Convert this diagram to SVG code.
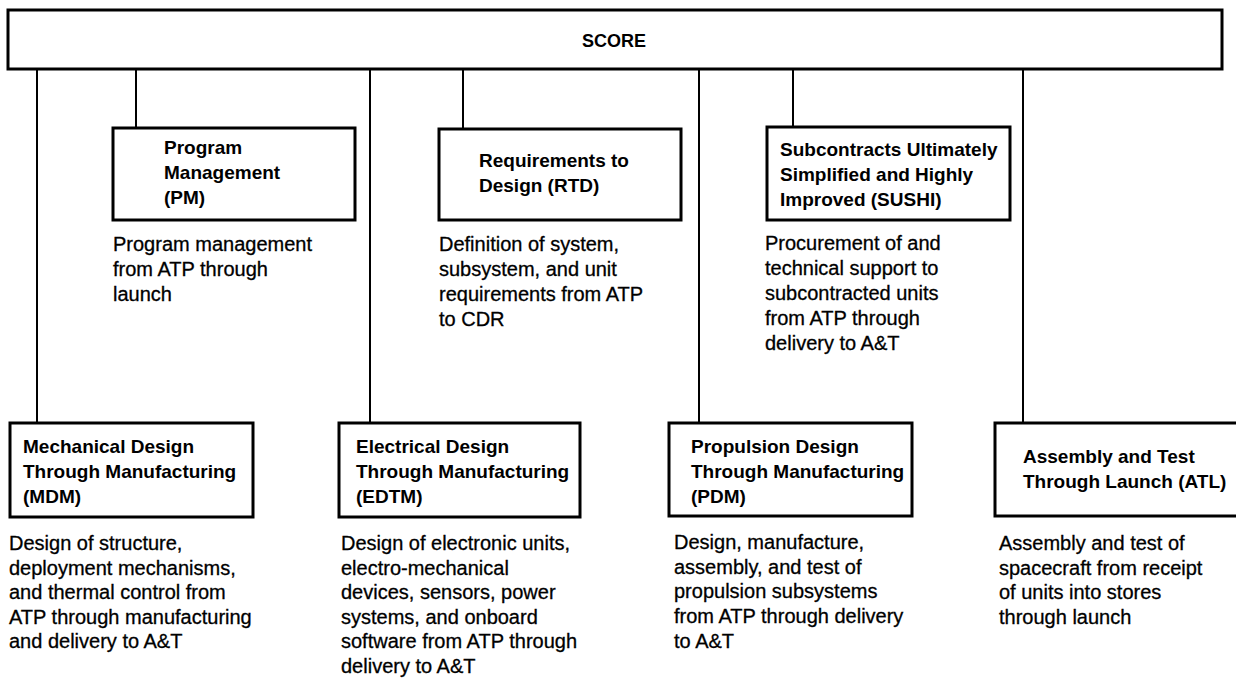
<svg xmlns="http://www.w3.org/2000/svg" width="1236" height="679" viewBox="0 0 1236 679">
<style>
.box{fill:#fff;stroke:#000;stroke-width:3}
.ln{stroke:#000;stroke-width:2;fill:none}
.t{font-family:"Liberation Sans",Arial,sans-serif;font-weight:bold;font-size:19px;fill:#000}
.d{font-family:"Liberation Sans",Arial,sans-serif;font-size:20px;fill:#000;stroke:#000;stroke-width:0.3}
.s{font-family:"Liberation Sans",Arial,sans-serif;font-weight:bold;font-size:18px;fill:#000}
</style>
<rect width="1236" height="679" fill="#fff"/>
<g id="connectors">
<line class="ln" x1="37" y1="69" x2="37" y2="423"/>
<line class="ln" x1="136" y1="69" x2="136" y2="128"/>
<line class="ln" x1="370" y1="69" x2="370" y2="423"/>
<line class="ln" x1="463" y1="69" x2="463" y2="129"/>
<line class="ln" x1="699" y1="69" x2="699" y2="423"/>
<line class="ln" x1="793" y1="69" x2="793" y2="127"/>
<line class="ln" x1="1023" y1="69" x2="1023" y2="423"/>
</g>
<g id="score">
<rect class="box" x="8" y="10" width="1214" height="59"/>
<text class="s" x="614" y="47" text-anchor="middle">SCORE</text>
</g>
<g id="pm">
<rect class="box" x="113" y="128" width="242" height="92"/>
<text class="t" x="164" y="154">Program<tspan x="164" dy="25">Management</tspan><tspan x="164" dy="25">(PM)</tspan></text>
<text class="d" x="113" y="251">Program management<tspan x="113" dy="25">from ATP through</tspan><tspan x="113" dy="25">launch</tspan></text>
</g>
<g id="rtd">
<rect class="box" x="439" y="129" width="242" height="91"/>
<text class="t" x="479" y="167">Requirements to<tspan x="479" dy="25">Design (RTD)</tspan></text>
<text class="d" x="439" y="251">Definition of system,<tspan x="439" dy="25">subsystem, and unit</tspan><tspan x="439" dy="25">requirements from ATP</tspan><tspan x="439" dy="25">to CDR</tspan></text>
</g>
<g id="sushi">
<rect class="box" x="767" y="127" width="243" height="93"/>
<text class="t" x="780" y="156">Subcontracts Ultimately<tspan x="780" dy="25">Simplified and Highly</tspan><tspan x="780" dy="25">Improved (SUSHI)</tspan></text>
<text class="d" x="765" y="250">Procurement of and<tspan x="765" dy="25">technical support to</tspan><tspan x="765" dy="25">subcontracted units</tspan><tspan x="765" dy="25">from ATP through</tspan><tspan x="765" dy="25">delivery to A&amp;T</tspan></text>
</g>
<g id="mdm">
<rect class="box" x="10" y="423" width="243" height="94"/>
<text class="t" x="23" y="453">Mechanical Design<tspan x="23" dy="25">Through Manufacturing</tspan><tspan x="23" dy="25">(MDM)</tspan></text>
<text class="d" x="9" y="550">Design of structure,<tspan x="9" dy="24.6">deployment mechanisms,</tspan><tspan x="9" dy="24.6">and thermal control from</tspan><tspan x="9" dy="24.6">ATP through manufacturing</tspan><tspan x="9" dy="24.6">and delivery to A&amp;T</tspan></text>
</g>
<g id="edtm">
<rect class="box" x="339" y="423" width="241" height="94"/>
<text class="t" x="356" y="453">Electrical Design<tspan x="356" dy="25">Through Manufacturing</tspan><tspan x="356" dy="25">(EDTM)</tspan></text>
<text class="d" x="341" y="550">Design of electronic units,<tspan x="341" dy="24.6">electro-mechanical</tspan><tspan x="341" dy="24.6">devices, sensors, power</tspan><tspan x="341" dy="24.6">systems, and onboard</tspan><tspan x="341" dy="24.6">software from ATP through</tspan><tspan x="341" dy="24.6">delivery to A&amp;T</tspan></text>
</g>
<g id="pdm">
<rect class="box" x="669" y="423" width="243" height="93"/>
<text class="t" x="691" y="453">Propulsion Design<tspan x="691" dy="25">Through Manufacturing</tspan><tspan x="691" dy="25">(PDM)</tspan></text>
<text class="d" x="674" y="549">Design, manufacture,<tspan x="674" dy="24.7">assembly, and test of</tspan><tspan x="674" dy="24.7">propulsion subsystems</tspan><tspan x="674" dy="24.7">from ATP through delivery</tspan><tspan x="674" dy="24.7">to A&amp;T</tspan></text>
</g>
<g id="atl">
<rect class="box" x="995" y="423" width="245" height="93"/>
<text class="t" x="1023" y="463">Assembly and Test<tspan x="1023" dy="25">Through Launch (ATL)</tspan></text>
<text class="d" x="999" y="550">Assembly and test of<tspan x="999" dy="24.7">spacecraft from receipt</tspan><tspan x="999" dy="24.7">of units into stores</tspan><tspan x="999" dy="24.7">through launch</tspan></text>
</g>
</svg>
